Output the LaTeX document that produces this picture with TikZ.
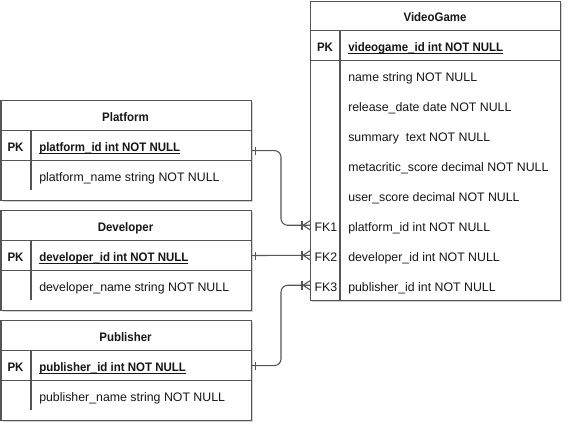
\documentclass[tikz,border=0pt]{standalone}
\usepackage{fontspec}
\setmainfont{Liberation Sans}[BoldFeatures={FakeStretch=0.93}]
\usetikzlibrary{shadows,calc}
\definecolor{linec}{HTML}{555555}
\definecolor{txtc}{HTML}{161616}
\newcommand\ulx[1]{\setbox0\hbox{#1}\rlap{\rule[-1.9pt]{\wd0}{0.6pt}}\box0}
\begin{document}
\begin{tikzpicture}[x=0.75pt,y=-0.75pt,
  every node/.style={text=txtc},
  basefont/.style={font=\fontsize{9.25}{11}\selectfont},
  boldfont/.style={font=\fontsize{9.25}{11}\selectfont\bfseries},
  tbl/.style={draw=linec, fill=white, line width=0.8pt, rectangle, inner sep=0pt, anchor=north west,
    drop shadow={shadow xshift=1.3pt, shadow yshift=-1.3pt, opacity=0.25, fill=black!70}},
  cell/.style={draw=linec, line width=0.8pt, rectangle, inner sep=0pt, anchor=north west,
    minimum width=187.5pt, minimum height=22.5pt},
  area/.style={rectangle, inner sep=0pt, anchor=north west, minimum width=187.5pt, minimum height=22.5pt},
  ttl/.style={boldfont, inner sep=0pt, anchor=base},
  keyt/.style={boldfont, inner sep=0pt, anchor=base},
  fkt/.style={basefont, inner sep=0pt, anchor=base},
  fld/.style={basefont, anchor=base west, inner sep=0pt},
  pkfld/.style={boldfont, anchor=base west, inner sep=0pt},
  divl/.style={draw=linec, line width=0.8pt},
  conn/.style={draw=linec, line width=0.8pt},
]
\useasboundingbox (0,0) rectangle (573,433);

% ---------------- VideoGame ----------------
\node[tbl, minimum width=187.5pt, minimum height=224.625pt] (vg) at (310,0.5) {};
\node[cell, minimum height=22.125pt] (vghead) at (310,0.5) {};
\node[ttl] (vgtitle) at (435,21) {VideoGame};
\node[cell] (vgpk) at (310,30) {};
\draw[divl] (340,30) -- (340,300);
\node[keyt] (vgpkk) at (325,51) {PK};
\node[pkfld] (vgid) at (348,51) {\ulx{videogame\_id int NOT NULL}};
\node[fld] (vgname) at (348,81) {name string NOT NULL};
\node[fld] (vgrel) at (348,111) {release\_date date NOT NULL};
\node[fld] (vgsum) at (348,141) {summary\ \ text NOT NULL};
\node[fld] (vgmeta) at (348,171) {metacritic\_score decimal NOT NULL};
\node[fld] (vguser) at (348,201) {user\_score decimal NOT NULL};
\node[area] (vgfk1) at (310,210) {};
\node[area] (vgfk2) at (310,240) {};
\node[area] (vgfk3) at (310,270) {};
\node[fkt] (fk1) at (326,231) {FK1};
\node[fkt] (fk2) at (326,261) {FK2};
\node[fkt] (fk3) at (326,291) {FK3};
\node[fld] (vgpid) at (348,231) {platform\_id int NOT NULL};
\node[fld] (vgdid) at (348,261) {developer\_id int NOT NULL};
\node[fld] (vgbid) at (348,291) {publisher\_id int NOT NULL};

% ---------------- Platform ----------------
\node[tbl, minimum width=187.5pt, minimum height=75pt] (plat) at (0.5,100) {};
\node[cell] (plathead) at (0.5,100) {};
\node[ttl] (plattitle) at (125.5,121) {Platform};
\node[cell] (platpk) at (0.5,130) {};
\draw[divl] (31,130) -- (31,190);
\node[keyt] (platpkk) at (15.5,151) {PK};
\node[pkfld] (platid) at (39,151) {\ulx{platform\_id int NOT NULL}};
\node[fld] (platname) at (39,181) {platform\_name string NOT NULL};

% ---------------- Developer ----------------
\node[tbl, minimum width=187.5pt, minimum height=75pt] (dev) at (0.5,210) {};
\node[cell] (devhead) at (0.5,210) {};
\node[ttl] (devtitle) at (125.5,231) {Developer};
\node[cell] (devpk) at (0.5,240) {};
\draw[divl] (31,240) -- (31,300);
\node[keyt] (devpkk) at (15.5,261) {PK};
\node[pkfld] (devid) at (39,261) {\ulx{developer\_id int NOT NULL}};
\node[fld] (devname) at (39,291) {developer\_name string NOT NULL};

% ---------------- Publisher ----------------
\node[tbl, minimum width=187.5pt, minimum height=75pt] (pub) at (0.5,320) {};
\node[cell] (pubhead) at (0.5,320) {};
\node[ttl] (pubtitle) at (125.5,341) {Publisher};
\node[cell] (pubpk) at (0.5,350) {};
\draw[divl] (31,350) -- (31,410);
\node[keyt] (pubpkk) at (15.5,371) {PK};
\node[pkfld] (pubid) at (39,371) {\ulx{publisher\_id int NOT NULL}};
\node[fld] (pubname) at (39,401) {publisher\_name string NOT NULL};

% ---------------- Connectors ----------------
\coordinate (vx) at (281,0);
\coordinate (pa) at ([yshift=-3.75pt]platpk.east);
\draw[conn, rounded corners=5pt] (pa) -- (pa -| vx) -- (vgfk1.west -| vx) -- (vgfk1.west);
\draw[conn] (devpk.east) -- (vgfk2.west);
\draw[conn, rounded corners=5pt] (pubpk.east) -- (pubpk.east -| vx) -- (vgfk3.west -| vx) -- (vgfk3.west);

% one-side ticks
\foreach \s in {pa, devpk.east, pubpk.east}
  \draw[conn] (\s) ++(4,-4) -- ++(0,8);
% many-side crow's feet with bar
\foreach \t in {vgfk1, vgfk2, vgfk3} {
  \draw[conn] (\t.west) ++(-8,-4.5) -- ++(0,9);
  \draw[conn] (\t.west) ++(0,-4.5) -- ++(-7,4.5) -- ++(7,4.5);
}
\end{tikzpicture}
\end{document}
